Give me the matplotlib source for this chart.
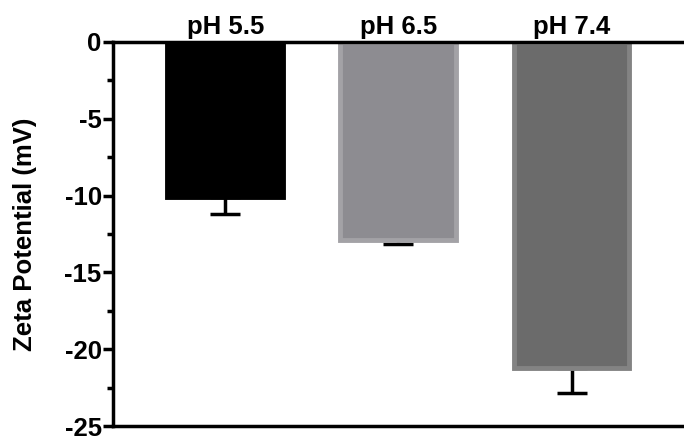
import matplotlib.pyplot as plt
import numpy as np

plt.rcParams['font.family'] = ['Liberation Sans', 'DejaVu Sans']
plt.rcParams['font.weight'] = 'bold'

labels = ["pH 5.5", "pH 6.5", "pH 7.4"]
zeta = [-10.12, -12.92, -21.22]
err = [1.05, 0.25, 1.65]
fill_colors = ["#000000", "#8d8c91", "#6b6b6b"]
edge_colors = ["#000000", "#a3a2a6", "#838383"]

fig = plt.figure(figsize=(6.84, 4.42), dpi=100)
ax = fig.add_axes([0.165, 0.036, 0.835, 0.869])

x = np.arange(len(labels))
# error bars only downward, drawn below the bars
ax.errorbar(x, zeta, yerr=[err, [0]*len(err)], fmt='none', ecolor='black',
            elinewidth=2.5, capsize=11, capthick=2.5, zorder=1)
ax.bar(x, zeta, width=0.67, color=fill_colors, edgecolor=edge_colors,
       linewidth=3.5, zorder=2)

ax.set_xlim(-0.65, 2.65)
ax.set_ylim(-25, 0)
ax.set_yticks([0, -5, -10, -15, -20, -25])
ax.set_yticks(np.arange(-22.5, 0, 5), minor=True)
ax.set_yticklabels(["0", "-5", "-10", "-15", "-20", "-25"], fontsize=18.5, fontweight='bold')
ax.tick_params(axis='y', which='major', length=7, width=2.5, pad=1)
ax.tick_params(axis='y', which='minor', length=4, width=2.5)

ax.xaxis.tick_top()
ax.set_xticks(x)
ax.set_xticklabels(labels, fontsize=18.5, fontweight='bold')
ax.tick_params(axis='x', length=0, pad=2)

for s in ['left', 'top', 'bottom']:
    ax.spines[s].set_linewidth(2.5)
ax.spines['right'].set_visible(False)

ax.set_ylabel("Zeta Potential (mV)", fontsize=18.5, fontweight='bold', labelpad=20)

fig.savefig("out.png", dpi=100)
